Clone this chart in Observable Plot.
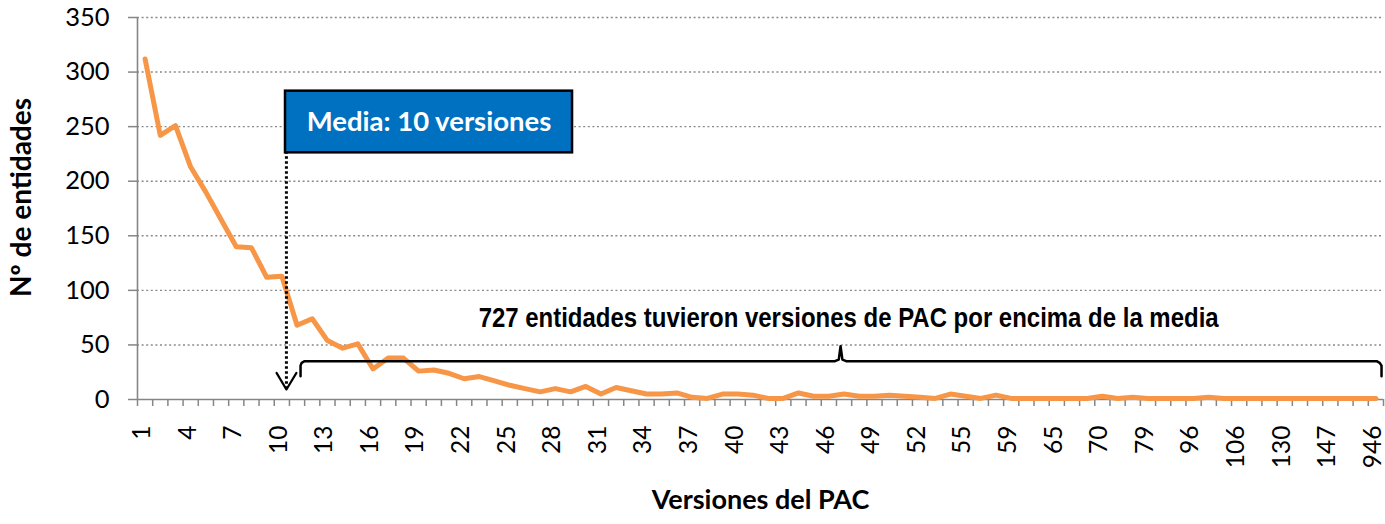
<!DOCTYPE html>
<html>
<head>
<meta charset="utf-8">
<script src="https://cdn.jsdelivr.net/npm/d3@7"></script>
<script src="https://cdn.jsdelivr.net/npm/@observablehq/plot@0.6"></script>
<style>
  html, body { margin: 0; padding: 0; background: #fff; }
</style>
</head>
<body>
<div id="chart"></div>
<script>
// Categories (versions of PAC) and number of entities
const categories = [
  "1","2","3","4","5","6","7","8","9","10",
  "11","12","13","14","15","16","17","18","19","20",
  "21","22","23","24","25","26","27","28","29","30",
  "31","32","33","34","35","36","37","38","39","40",
  "41","42","43","44","45","46","47","48","49","50",
  "51","52","53","54","55","56","57","59","60","62",
  "65","66","68","70","73","76","79","84","90","96",
  "99","103","106","113","120","130","135","141","147","160",
  "220","946"
];
const values = [
  312,242,251,213,190,165,140,139,112,113,
  68,74,54,47,51,28,38,38,26,27,
  24,19,21,17,13,10,7,10,7,12,
  5,11,8,5,5,6,2,1,5,5,
  4,1,1,6,3,3,5,3,3,4,
  3,2,1,5,3,1,4,1,1,1,
  1,1,1,3,1,2,1,1,1,1,
  2,1,1,1,1,1,1,1,1,1,
  1,1
];
const yTicks = [0, 50, 100, 150, 200, 250, 300, 350];
const xLabelPositions = d3.range(1, categories.length + 1, 3);
const boundaries = d3.range(0.5, categories.length + 1, 1);

const meanLabel = "Media: 10 versiones";
const braceLabel = "727 entidades tuvieron versiones de PAC por encima de la media";
const xTitle = "Versiones del PAC";
const yTitle = "Nº de entidades";

const bracePts = [
  [11.23, 21.4], [11.23, 31], [11.3, 33.6], [11.5, 35.1],
  [46.4, 35.1], [46.65, 36.6], [46.77, 48.8], [46.89, 36.6], [47.14, 35.1],
  [82.05, 35.1], [82.25, 33.6], [82.37, 31], [82.37, 21.4]
];
const arrowHead = [[9.65, 24.4], [10.3, 9.2], [10.96, 24.4]];

const chart = Plot.plot({
  width: 1385,
  height: 524,
  marginLeft: 137,
  marginRight: 2,
  marginTop: 17,
  marginBottom: 125,
  style: {fontFamily: "Lato, 'Open Sans', sans-serif", fontSize: "25px", color: "#000", background: "#fff", overflow: "visible"},
  x: {type: "linear", domain: [0.5, categories.length + 0.5]},
  y: {domain: [0, 350]},
  marks: [
    Plot.gridY(yTicks.slice(1), {stroke: "#8a8a8a", strokeOpacity: 1, strokeDasharray: "2,2.6", strokeWidth: 1.4}),
    Plot.axisY(yTicks, {tickSize: 9, tickPadding: 19, stroke: "#868686", strokeWidth: 1.5, fontSize: 25.5, label: null}),
    Plot.ruleX([0.5], {stroke: "#868686", strokeWidth: 1.6}),
    Plot.ruleY([0], {stroke: "#868686", strokeWidth: 1.6}),
    Plot.axisX(boundaries, {tickSize: 7, tickFormat: () => "", stroke: "#868686", strokeWidth: 1.5, label: null}),
    Plot.axisX(xLabelPositions, {tickSize: 0, tickRotate: -90, tickPadding: 26, dx: -3, tickFormat: i => categories[i - 1], fontSize: 24.5, label: null}),
    Plot.lineY(values, {x: (d, i) => i + 1, y: d => d, stroke: "#F79646", strokeWidth: 5, strokeLinejoin: "round", strokeLinecap: "round"}),
    // mean annotation
    Plot.rect([meanLabel], {x1: 10.24, x2: 29.13, y1: 226, y2: 282.5, fill: "#0070C0", stroke: "#000", strokeWidth: 2.5}),
    Plot.text([meanLabel], {x: 19.68, y: 254, fill: "#fff", fontWeight: "bold", fontSize: 27.5, fontFamily: "Lato, sans-serif"}),
    Plot.ruleX([10.3], {y1: 9.5, y2: 226, stroke: "#000", strokeWidth: 3, strokeDasharray: "2.5,2.5"}),
    Plot.line(arrowHead, {stroke: "#000", strokeWidth: 2.2}),
    // brace annotation
    Plot.line(bracePts, {stroke: "#000", strokeWidth: 2.5, strokeLinejoin: "round"}),
    Plot.text([braceLabel], {x: 47.3, y: 74.5, fontWeight: "bold", fontSize: 28, fontFamily: "'Liberation Sans Narrow', 'Arial Narrow', 'Liberation Sans', Arial, sans-serif"}),
    // axis titles
    Plot.text([yTitle], {frameAnchor: "left", rotate: -90, dx: -115, dy: -11, textAnchor: "middle", fontWeight: "bold", fontSize: 28}),
    Plot.text([xTitle], {frameAnchor: "bottom", dy: 109, textAnchor: "middle", fontWeight: "bold", fontSize: 27})
  ]
});
document.getElementById("chart").appendChild(chart);
// condense the brace label to the width it has in the reference (Arial Narrow look)
d3.select(chart).selectAll("text")
  .filter(function () { return this.textContent === braceLabel; })
  .attr("textLength", 740)
  .attr("lengthAdjust", "spacingAndGlyphs");
</script>
</body>
</html>
